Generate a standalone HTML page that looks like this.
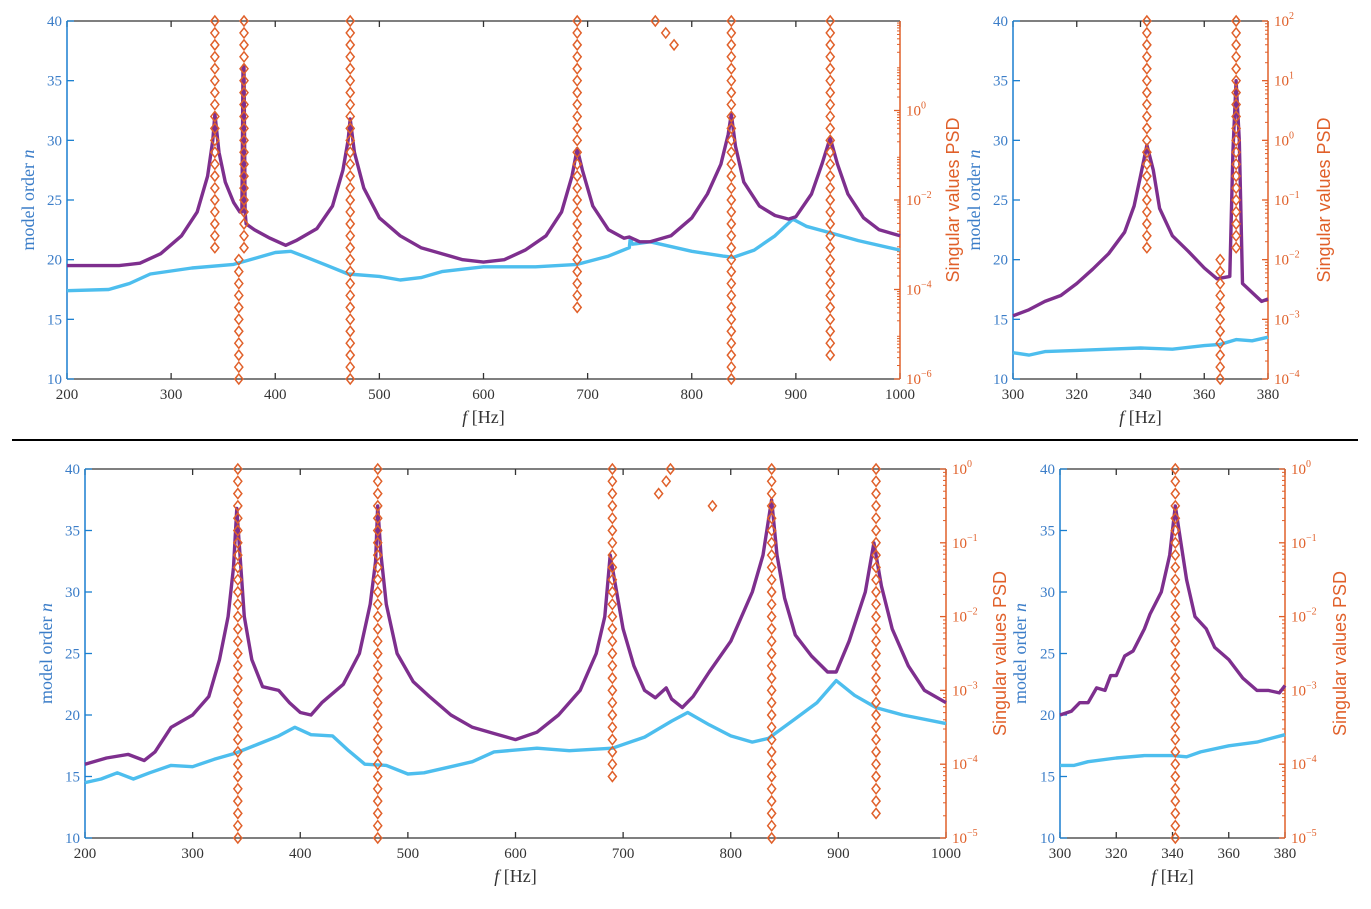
<!DOCTYPE html>
<html><head><meta charset="utf-8"><style>
body{margin:0;background:#fff;}
svg{display:block;font-family:"Liberation Serif",serif;}
</style></head><body>
<svg id="chart" width="1371" height="909" viewBox="0 0 1371 909">
<line x1="12" y1="440" x2="1358" y2="440" stroke="#000" stroke-width="2"/>
</svg>
<script>
// ---- Data (purple / cyan curves read in model-order units of the left axis) ----
const tlPurpleF=[200,250,270,290,310,325,335,340,342,346,352,360,366,368,369,370,371,372,380,395,410,420,440,455,465,470,472,476,485,500,520,540,560,580,600,620,640,660,675,685,690,695,705,720,735,740,750,760,780,800,815,828,835,838,842,850,865,880,893,900,915,925,933,940,950,965,980,1000];
const tlPurpleV=[19.5,19.5,19.7,20.5,22,24,27,30,32.2,29,26.5,24.8,24,24,36,36.3,24,23,22.5,21.8,21.2,21.6,22.6,24.5,27.5,30,31.8,29,26,23.5,22,21,20.5,20,19.8,20,20.8,22,24,27,29.3,27.5,24.5,22.5,21.8,21.9,21.5,21.5,22,23.5,25.5,28,30.5,32.2,29.5,26.5,24.5,23.7,23.4,23.6,25.5,28,30.2,28,25.5,23.5,22.5,22];
const tlCyanF=[200,240,260,280,320,360,380,400,415,430,450,470,500,520,540,560,600,650,690,720,740,741,743,760,800,830,840,860,880,897,910,935,960,1000];
const tlCyanV=[17.4,17.5,18,18.8,19.3,19.6,20.1,20.6,20.7,20.2,19.5,18.8,18.6,18.3,18.5,19,19.4,19.4,19.6,20.3,21.0,21.8,21.3,21.5,20.7,20.3,20.2,20.8,22,23.4,22.8,22.2,21.6,20.8];
const tlStackF=[342,365,370,472,690,838,933];
const tlStackLo=[21,10,21,10,16,10,12];
const tlStackHi=[40,20,40,40,40,40,40];
const tlSingleF=[765,775,783];
const tlSingleN=[40,39,38];

const trPurpleF=[300,305,310,315,320,325,330,335,338,340,342,344,346,350,355,360,364,368,369,370,371,372,376,378,380];
const trPurpleV=[15.3,15.8,16.5,17,18,19.2,20.5,22.3,24.5,27,29.6,27.5,24.3,22,20.7,19.3,18.4,18.6,29,35,30,18,17,16.5,16.7];
const trCyanF=[300,305,310,320,330,340,350,360,365,370,375,380];
const trCyanV=[12.2,12.0,12.3,12.4,12.5,12.6,12.5,12.8,12.9,13.3,13.2,13.5];
const trStackF=[342,365,370];
const trStackLo=[21,10,21];
const trStackHi=[40,20,40];

const blPurpleF=[200,220,240,255,265,280,300,315,325,333,338,341,344,348,355,365,380,390,400,410,420,440,455,465,470,472,475,480,490,505,520,540,560,580,600,620,640,660,675,683,688,692,700,710,720,730,740,745,755,765,780,800,820,830,838,843,850,860,875,890,898,910,925,933,940,950,965,980,1000];
const blPurpleV=[16,16.5,16.8,16.3,17,19,20,21.5,24.5,28,32,36.8,33,28,24.5,22.3,22,21,20.2,20,21,22.5,25,29,32.5,37,33,29,25,22.7,21.5,20,19,18.5,18,18.6,20,22,25,28,33,31,27,24,22,21.4,22.2,21.3,20.6,21.5,23.5,26,30,33,37.5,33,29.5,26.5,24.8,23.5,23.5,26,30,34,30.5,27,24,22,21];
const blCyanF=[200,215,230,245,260,280,300,320,340,360,380,395,410,430,445,460,480,500,515,540,560,580,620,650,690,720,745,760,780,800,820,835,860,880,898,915,935,960,1000];
const blCyanV=[14.5,14.8,15.3,14.8,15.3,15.9,15.8,16.4,16.9,17.6,18.3,19,18.4,18.3,17.1,16,15.9,15.2,15.3,15.8,16.2,17,17.3,17.1,17.3,18.2,19.5,20.2,19.2,18.3,17.8,18.1,19.7,21,22.8,21.6,20.6,20,19.3];
const blStackF=[342,472,690,838,935];
const blStackLo=[10,10,15,10,12];
const blStackHi=[40,40,40,40,40];
const blSingleF=[733,740,744,783];
const blSingleN=[38,39,40,37];

const brPurpleF=[300,304,307,310,313,316,318,320,323,326,330,332,336,339,341,343,345,348,352,355,360,365,370,374,378,380];
const brPurpleV=[20,20.3,21,21,22.2,22,23.2,23.2,24.8,25.2,27,28.2,30,33,37,34,31,28,27,25.5,24.5,23,22,22,21.8,22.4];
const brCyanF=[300,305,310,320,330,340,345,350,360,370,380];
const brCyanV=[15.9,15.9,16.2,16.5,16.7,16.7,16.6,17,17.5,17.8,18.4];
const brStackF=[341];
const brStackLo=[10];
const brStackHi=[40];

const leftTicks=[10,15,20,25,30,35,40];
const xTicksWide=[200,300,400,500,600,700,800,900,1000];
const xTicksZoom=[300,320,340,360,380];
const tlLogTicks=[-6,-4,-2,0];
const trLogTicks=[-4,-3,-2,-1,0,1,2];
const bLogTicks=[-5,-4,-3,-2,-1,0];

const NS='http://www.w3.org/2000/svg';
const svg=document.getElementById('chart');
function mk(tag,attrs,parent){const e=document.createElementNS(NS,tag);for(const k in attrs)e.setAttribute(k,attrs[k]);(parent||svg).appendChild(e);return e;}

function panel(p){
  const g=mk('g',{});
  
  
  const xs=f=>p.x0+(f-p.f0)/(p.f1-p.f0)*(p.x1-p.x0);
  const ys=n=>p.y1-(n-10)/30*(p.y1-p.y0);
  const yl=l=>p.y1-(l-p.l0)/(p.l1-p.l0)*(p.y1-p.y0);
  const fr=mk('path',{d:`M${p.x0},${p.y0}H${p.x1}M${p.x0},${p.y1}H${p.x1}`,stroke:'#333','stroke-width':1.3,fill:'none'},g);
  
  
  p.xt.forEach(t=>{
    const x=xs(t);
    mk('path',{d:`M${x},${p.y1}v-6M${x},${p.y0}v6`,stroke:'#333','stroke-width':1.3},g);
    const tx=mk('text',{x:x,y:p.y1+20,'text-anchor':'middle','font-size':15,fill:'#333'},g);
    tx.textContent=t;
    
    
  });
  const la=mk('line',{x1:p.x0,y1:p.y0,x2:p.x0,y2:p.y1,stroke:'#1a7fd0','stroke-width':1.5},g);
  
  
  leftTicks.forEach(t=>{
    const y=ys(t);
    mk('line',{x1:p.x0,y1:y,x2:p.x0+7,y2:y,stroke:'#1a7fd0','stroke-width':1.3},g);
    const tx=mk('text',{x:p.x0-5,y:y+5,'text-anchor':'end','font-size':15,fill:'#3b7dc8'},g);
    tx.textContent=t;
    
    
  });
  const ra=mk('line',{x1:p.x1,y1:p.y0,x2:p.x1,y2:p.y1,stroke:'#e0602a','stroke-width':1.5},g);
  
  
  for(let d=p.l0;d<p.l1;d++){for(let k=2;k<=9;k++){const y=yl(d+Math.log10(k));mk('line',{x1:p.x1,y1:y,x2:p.x1-3,y2:y,stroke:'#e0602a','stroke-width':1},g);}}
  p.lt.forEach(t=>{
    const y=yl(t);
    mk('line',{x1:p.x1,y1:y,x2:p.x1-6,y2:y,stroke:'#e0602a','stroke-width':1.3},g);
    const tx=mk('text',{x:p.x1+6,y:y+5,'font-size':15,fill:'#e0602a'},g);
    
    
    tx.appendChild(document.createTextNode('10'));
    const s=mk('tspan',{dy:-7,'font-size':10},tx);s.textContent=(t<0?'\u2212'+(-t):t);
  });
  function dia(f,n){
    const x=xs(f),y=ys(n);
    const d=mk('path',{d:`M${x},${y-5}L${x+4},${y}L${x},${y+5}L${x-4},${y}Z`,fill:'none',stroke:'#e0602a','stroke-width':1.5},g);
    
    
  }
  function line(F,V,col,name){
    let d='';F.forEach((f,i)=>{d+=(i?'L':'M')+xs(f).toFixed(1)+','+ys(V[i]).toFixed(1);});
    const l=mk('path',{d:d,fill:'none',stroke:col,'stroke-width':3.4,'stroke-linejoin':'round'},g);
    
    
  }
  line(p.cF,p.cV,'#4dbeee','psd-second-singular-value');
  line(p.pF,p.pV,'#7e2f8e','psd-first-singular-value');
  p.sF.forEach((f,i)=>{for(let n=p.sLo[i];n<=p.sHi[i];n++)dia(f,n);});
  (p.oF||[]).forEach((f,i)=>dia(f,p.oN[i]));
  const xl=mk('text',{x:(p.x0+p.x1)/2,y:p.y1+44,'text-anchor':'middle','font-size':18,fill:'#333'},g);
  
  
  const it=mk('tspan',{'font-style':'italic'},xl);it.textContent='f';
  xl.appendChild(document.createTextNode(' [Hz]'));
  const cy=(p.y0+p.y1)/2;
  const yt=mk('text',{x:0,y:0,transform:`translate(${p.ylx},${cy}) rotate(-90)`,'text-anchor':'middle','font-size':18,fill:'#3b7dc8'},g);
  
  
  yt.appendChild(document.createTextNode('model order '));
  const nn=mk('tspan',{'font-style':'italic'},yt);nn.textContent='n';
  const rt=mk('text',{x:0,y:0,transform:`translate(${p.yrx},${cy}) rotate(-90)`,'text-anchor':'middle','font-size':18,fill:'#e0602a','font-family':'Liberation Sans, sans-serif'},g);
  rt.textContent='Singular values PSD';
  
  
}

panel({name:'top-left-panel',x0:67,x1:900,y0:21,y1:379,f0:200,f1:1000,l0:-6,l1:2,xt:xTicksWide,lt:tlLogTicks,pF:tlPurpleF,pV:tlPurpleV,cF:tlCyanF,cV:tlCyanV,sF:tlStackF,sLo:tlStackLo,sHi:tlStackHi,oF:tlSingleF,oN:tlSingleN,ylx:34,yrx:959});
panel({name:'top-right-panel',x0:1013,x1:1268,y0:21,y1:379,f0:300,f1:380,l0:-4,l1:2,xt:xTicksZoom,lt:trLogTicks,pF:trPurpleF,pV:trPurpleV,cF:trCyanF,cV:trCyanV,sF:trStackF,sLo:trStackLo,sHi:trStackHi,ylx:980,yrx:1330});
panel({name:'bottom-left-panel',x0:85,x1:946,y0:469,y1:838,f0:200,f1:1000,l0:-5,l1:0,xt:xTicksWide,lt:bLogTicks,pF:blPurpleF,pV:blPurpleV,cF:blCyanF,cV:blCyanV,sF:blStackF,sLo:blStackLo,sHi:blStackHi,oF:blSingleF,oN:blSingleN,ylx:52,yrx:1006});
panel({name:'bottom-right-panel',x0:1060,x1:1285,y0:469,y1:838,f0:300,f1:380,l0:-5,l1:0,xt:xTicksZoom,lt:bLogTicks,pF:brPurpleF,pV:brPurpleV,cF:brCyanF,cV:brCyanV,sF:brStackF,sLo:brStackLo,sHi:brStackHi,ylx:1026,yrx:1346});
</script>
</body></html>
